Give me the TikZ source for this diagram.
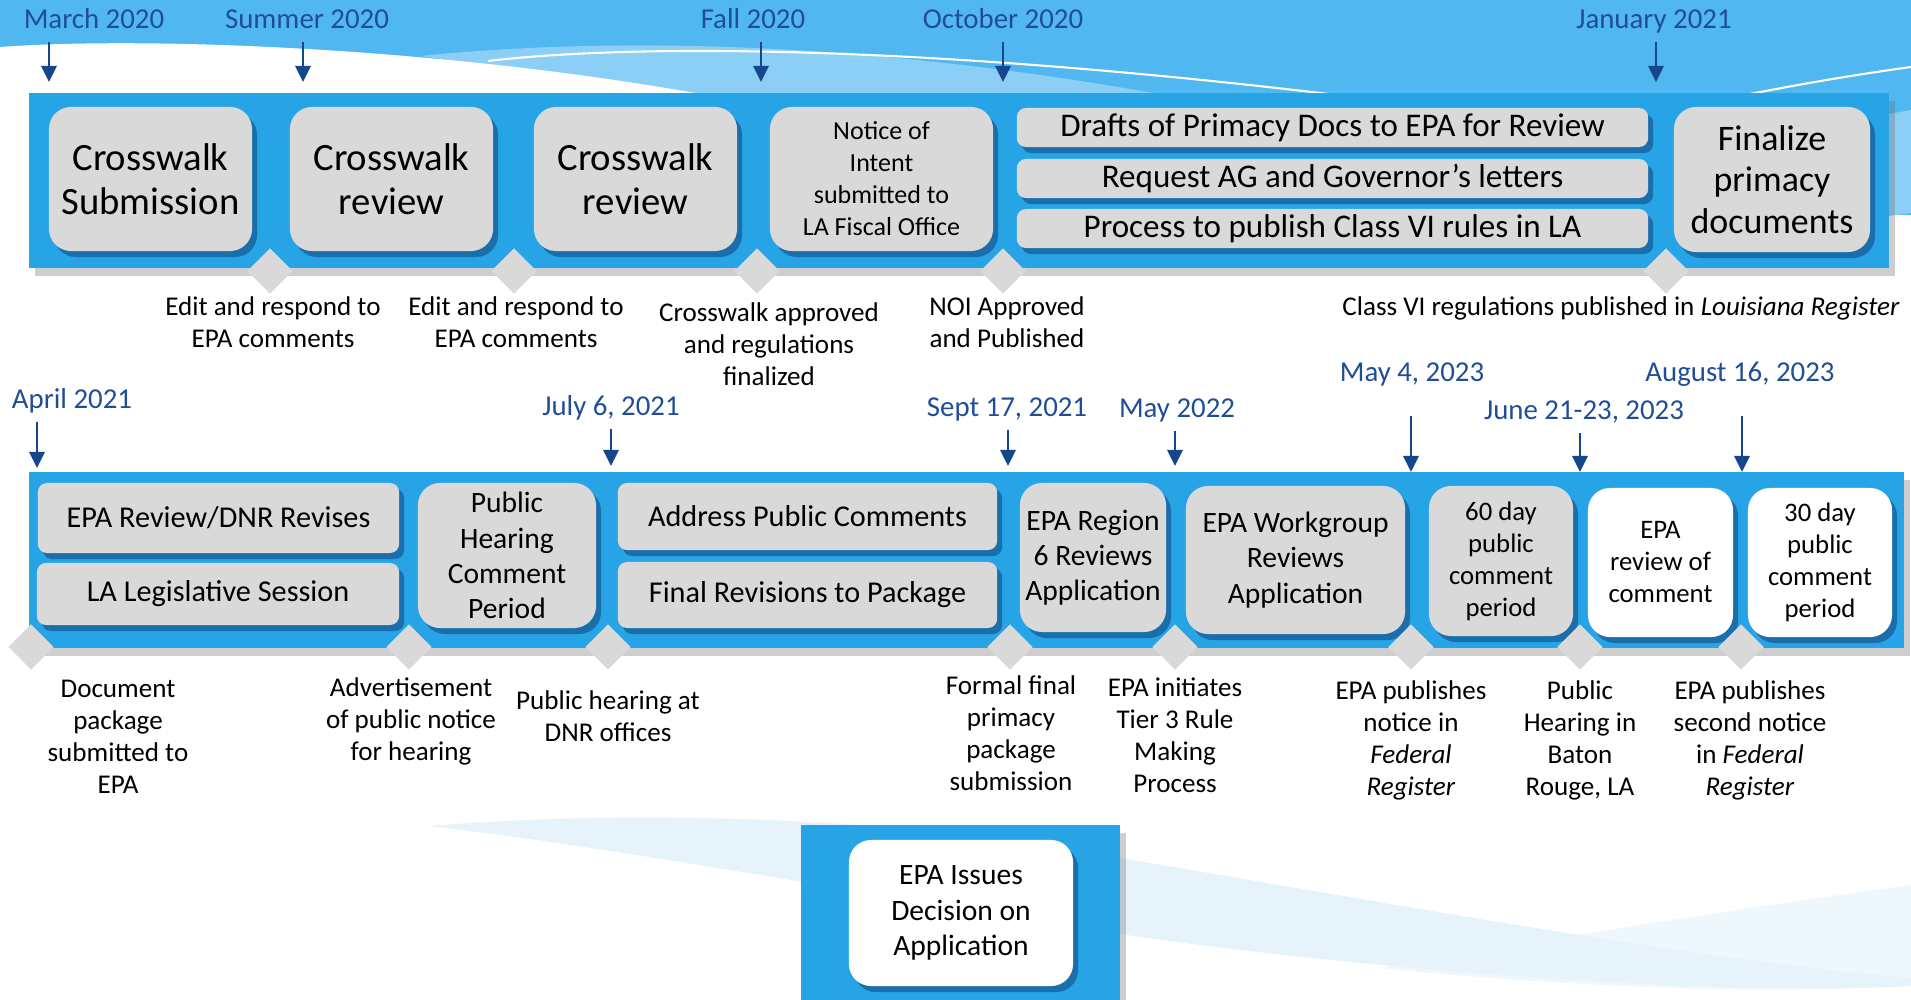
\documentclass[tikz,border=0pt]{standalone}
\usepackage{fontspec}
\setmainfont{Carlito}
\usetikzlibrary{arrows.meta,shapes.geometric,shadows,positioning}

\definecolor{laneblue}{RGB}{38,164,229}
\definecolor{skyblue}{RGB}{80,183,240}
\definecolor{paleblue}{RGB}{140,207,246}
\definecolor{mistblue}{RGB}{230,243,251}
\definecolor{datenavy}{RGB}{31,78,150}
\definecolor{pinnavy}{RGB}{22,70,140}
\definecolor{boxgrey}{RGB}{217,217,217}
\definecolor{boxshade}{RGB}{25,105,165}

\tikzset{
  lane/.style={fill=laneblue, drop shadow={shadow xshift=0.06cm, shadow yshift=-0.08cm, fill=black!55, opacity=0.35}},
  stepbox/.style={fill=boxgrey, rounded corners=0.22cm, inner sep=0pt, align=center,
    drop shadow={shadow xshift=0.05cm, shadow yshift=-0.06cm, fill=boxshade, opacity=0.9}},
  whitebox/.style={stepbox, fill=white},
  barbox/.style={stepbox, rounded corners=0.09cm, font=\fontsize{8.6}{10}\selectfont},
  gem/.style={diamond, fill=boxgrey, minimum width=0.46cm, minimum height=0.46cm, inner sep=0pt},
  datelbl/.style={text=datenavy, font=\fontsize{8.2}{9.8}\selectfont, inner sep=0pt, text height=5.6pt, text depth=1.6pt},
  pin/.style={draw=pinnavy, line width=0.8pt, -{Triangle[width=0.15cm,length=0.16cm]}, shorten <=0.08cm},
  note/.style={font=\fontsize{7.7}{9.1}\selectfont, align=center, inner sep=0pt},
  bigtxt/.style={font=\fontsize{11}{12.6}\selectfont},
  midtxt/.style={font=\fontsize{8.4}{10}\selectfont},
  smalltxt/.style={font=\fontsize{7.6}{9.1}\selectfont}
}

\begin{document}
\begin{tikzpicture}[x=0.01cm, y=-0.01cm]
  \useasboundingbox (0,0) rectangle (1911,1000);

  % sky and swooshes
  \fill[skyblue] (0,0) rectangle (1911,215);
  \fill[paleblue] (420,56) .. controls (600,38) and (850,38) .. (1170,96) -- (700,96) -- cycle;
  \fill[white] (0,47) .. controls (150,36) and (450,48) .. (712,96) -- (712,230) -- (0,230) -- cycle;
  \draw[white, line width=0.6pt] (488,61) .. controls (650,42) and (950,48) .. (1345,96);
  \draw[white, line width=0.6pt] (1740,96) .. controls (1800,84) and (1860,74) .. (1911,67);
  \fill[paleblue] (1889,114) -- (1911,110) -- (1911,213) -- (1889,216) -- cycle;
  \fill[mistblue] (429,826) .. controls (620,810) and (900,815) .. (1120,858) .. controls (1400,905) and (1700,960) .. (1911,978)
    -- (1911,986) .. controls (1750,996) and (1400,975) .. (1120,934) .. controls (900,900) and (620,848) .. (429,826) -- cycle;
  \fill[mistblue, opacity=0.7] (1380,968) .. controls (1600,930) and (1800,900) .. (1911,885) -- (1911,985) .. controls (1750,996) and (1550,985) .. (1380,968) -- cycle;

  % bands
  \fill[lane] (29,93) rectangle (1889,268);
  \fill[lane] (29,472) rectangle (1904,648);
  \fill[lane] (801,825) rectangle (1120,1000);

  % first row
  \node[stepbox, bigtxt, minimum width=2.03cm, minimum height=1.44cm] (cws) at (150.5,179) {Crosswalk\\Submission};
  \node[stepbox, bigtxt, minimum width=2.03cm, minimum height=1.44cm] (rv1) at (391.5,179) {Crosswalk\\review};
  \node[stepbox, bigtxt, minimum width=2.03cm, minimum height=1.44cm] (rv2) at (635.5,179) {Crosswalk\\review};
  \node[stepbox, font=\fontsize{7.4}{9.1}\selectfont, minimum width=2.23cm, minimum height=1.44cm] (noi) at (881.5,179) {Notice of\\Intent\\submitted to\\LA Fiscal Office};
  \node[barbox, font=\fontsize{9.4}{10}\selectfont, minimum width=6.31cm, minimum height=0.39cm] (drf) at (1332.5,127.5) {Drafts of Primacy Docs to EPA for Review};
  \node[barbox, font=\fontsize{9.4}{10}\selectfont, minimum width=6.31cm, minimum height=0.39cm] (agl) at (1332.5,178.5) {Request AG and Governor’s letters};
  \node[barbox, font=\fontsize{9.4}{10}\selectfont, minimum width=6.31cm, minimum height=0.39cm] (pub) at (1332.5,228.5) {Process to publish Class VI rules in LA};
  \node[stepbox, font=\fontsize{10.2}{11.8}\selectfont, minimum width=1.96cm, minimum height=1.45cm] (fin) at (1772,179.5) {Finalize\\primacy\\documents};

  \node[gem] (g1) at (270,271) {};
  \node[gem] (g2) at (514,271) {};
  \node[gem] (g3) at (757,271) {};
  \node[gem] (g4) at (1003,271) {};
  \node[gem] (g5) at (1666,271) {};

  \node[note] (n1) at (273,322) {Edit and respond to\\EPA comments};
  \node[note] (n2) at (516,322) {Edit and respond to\\EPA comments};
  \node[note] (n3) at (769,344) {Crosswalk approved\\and regulations\\finalized};
  \node[note] (n4) at (1007,322) {NOI Approved\\and Published};
  \node[note] (n5) at (1621,308) {Class VI regulations published in \textit{Louisiana Register}};

  \node[datelbl] (mar20) at (94,21) {March 2020};
  \node[datelbl] (sum20) at (307,21) {Summer 2020};
  \node[datelbl] (fal20) at (753,21) {Fall 2020};
  \node[datelbl] (oct20) at (1003,21) {October 2020};
  \node[datelbl] (jan21) at (1654,21) {January 2021};
  \coordinate (tmar20) at (49,82);
  \coordinate (tsum20) at (303,82);
  \coordinate (tfal20) at (761,82);
  \coordinate (toct20) at (1003,82);
  \coordinate (tjan21) at (1656,82);
  \draw[pin] (mar20.south -| tmar20) -- (tmar20);
  \draw[pin] (sum20.south -| tsum20) -- (tsum20);
  \draw[pin] (fal20.south -| tfal20) -- (tfal20);
  \draw[pin] (oct20.south -| toct20) -- (toct20);
  \draw[pin] (jan21.south -| tjan21) -- (tjan21);

  % second row
  \node[barbox, minimum width=3.61cm, minimum height=0.70cm] (rev) at (218.5,518) {EPA Review/DNR Revises};
  \node[barbox, minimum width=3.62cm, minimum height=0.62cm] (leg) at (218,594) {LA Legislative Session};
  \node[stepbox, midtxt, minimum width=1.78cm, minimum height=1.45cm] (phc) at (507,555.5) {Public\\Hearing\\Comment\\Period};
  \node[barbox, minimum width=3.79cm, minimum height=0.67cm] (apc) at (807.5,516.5) {Address Public Comments};
  \node[barbox, minimum width=3.79cm, minimum height=0.66cm] (frp) at (807.5,595) {Final Revisions to Package};
  \node[stepbox, midtxt, minimum width=1.46cm, minimum height=1.49cm] (rg6) at (1093,557.5) {EPA Region\\6 Reviews\\Application};
  \node[stepbox, midtxt, minimum width=2.19cm, minimum height=1.48cm] (wkg) at (1295.5,560) {EPA Workgroup\\Reviews\\Application};
  \node[stepbox, smalltxt, minimum width=1.44cm, minimum height=1.50cm] (d60) at (1501,561) {60 day\\public\\comment\\period};
  \node[whitebox, smalltxt, minimum width=1.45cm, minimum height=1.49cm] (rvc) at (1660.5,562.5) {EPA\\review of\\comment};
  \node[whitebox, smalltxt, minimum width=1.44cm, minimum height=1.49cm] (d30) at (1820,562.5) {30 day\\public\\comment\\period};

  \node[gem] (h1) at (31,647) {};
  \node[gem] (h2) at (409,647) {};
  \node[gem] (h3) at (608,647) {};
  \node[gem] (h4) at (1010,647) {};
  \node[gem] (h5) at (1175,647) {};
  \node[gem] (h6) at (1411,647) {};
  \node[gem] (h7) at (1580,647) {};
  \node[gem] (h8) at (1741,647) {};

  \node[note] (m1) at (118,737) {Document\\package\\submitted to\\EPA};
  \node[note] (m2) at (411,721) {Advertisement\\of public notice\\for hearing};
  \node[note] (m3) at (608,716) {Public hearing at\\DNR offices};
  \node[note] (m4) at (1011,733.5) {Formal final\\primacy\\package\\submission};
  \node[note] (m5) at (1175,735) {EPA initiates\\Tier 3 Rule\\Making\\Process};
  \node[note] (m6) at (1411,740) {EPA publishes\\notice in\\\textit{Federal}\\\textit{Register}};
  \node[note] (m7) at (1580,740) {Public\\Hearing in\\Baton\\Rouge, LA};
  \node[note] (m8) at (1750,740) {EPA publishes\\second notice\\in \textit{Federal}\\\textit{Register}};

  \node[datelbl] (apr21) at (72,401) {April 2021};
  \node[datelbl] (jul21) at (611,408) {July 6, 2021};
  \node[datelbl] (sep21) at (1007,409) {Sept 17, 2021};
  \node[datelbl] (may22) at (1177,410) {May 2022};
  \node[datelbl] (may23) at (1412,374) {May 4, 2023};
  \node[datelbl] (jun23) at (1584,412) {June 21-23, 2023};
  \node[datelbl] (aug23) at (1740,374) {August 16, 2023};
  \coordinate (tapr21) at (37,468);
  \coordinate (tjul21) at (611,466);
  \coordinate (tsep21) at (1008,466);
  \coordinate (tmay22) at (1175,466);
  \coordinate (tmay23) at (1411,472);
  \coordinate (tjun23) at (1580,472);
  \coordinate (taug23) at (1742,472);
  \draw[pin] (apr21.south -| tapr21) -- (tapr21);
  \draw[pin] (jul21.south -| tjul21) -- (tjul21);
  \draw[pin] (sep21.south -| tsep21) -- (tsep21);
  \draw[pin] (may22.south -| tmay22) -- (tmay22);
  \draw[pin, shorten <=0.29cm] (may23.south -| tmay23) -- (tmay23);
  \draw[pin] (jun23.south -| tjun23) -- (tjun23);
  \draw[pin, shorten <=0.29cm] (aug23.south -| taug23) -- (taug23);

  % decision
  \node[whitebox, midtxt, minimum width=2.24cm, minimum height=1.46cm] (dec) at (961,913) {EPA Issues\\Decision on\\Application};
\end{tikzpicture}
\end{document}
